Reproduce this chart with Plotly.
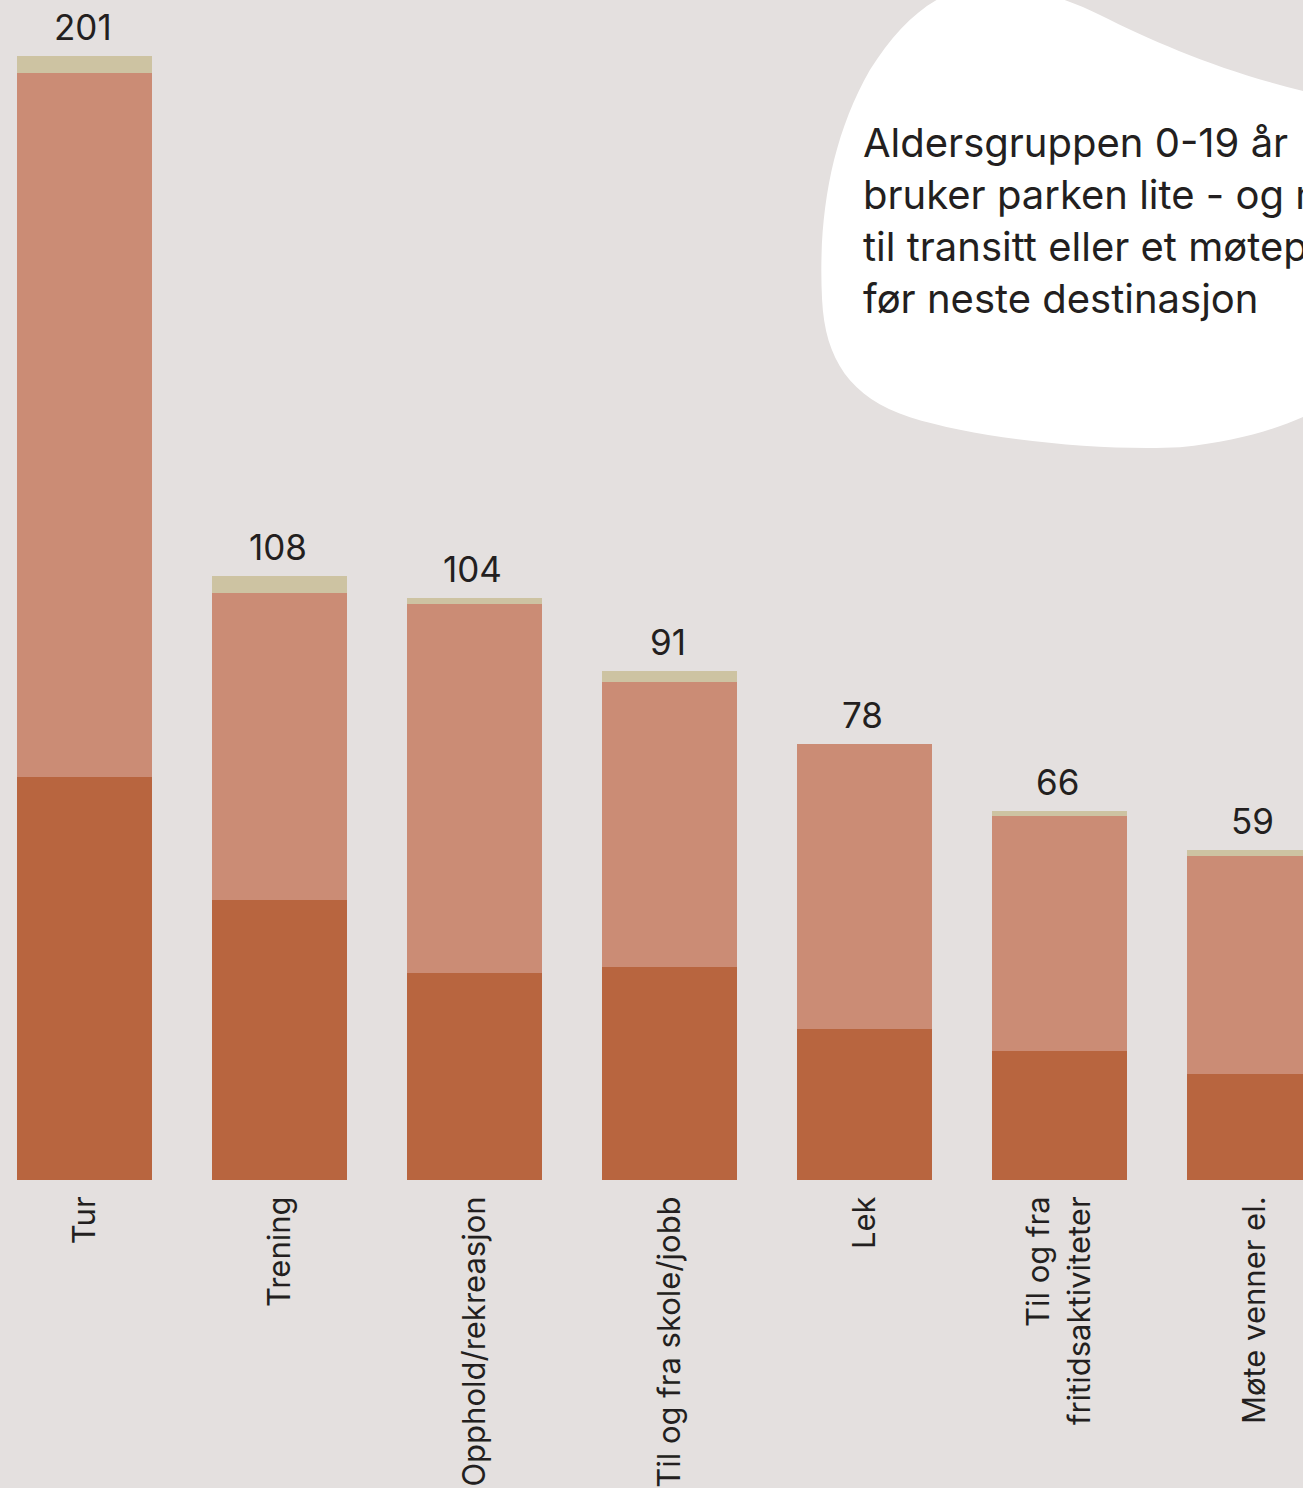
import plotly.graph_objects as go

categories = ["Tur", "Trening", "Opphold/rekreasjon", "Til og fra skole/jobb",
              "Lek", "Til og fra<br>fritidsaktiviteter", "Møte venner el."]
dark_vals = [72, 50, 37, 38, 27, 23, 19]
light_vals = [126, 55, 66, 51, 51, 42, 39]
beige_vals = [3, 3, 1, 2, 0, 1, 1]
totals = [201, 108, 104, 91, 78, 66, 59]

blob_lines = ["Aldersgruppen 0-19 år",
              "bruker parken lite - og mest",
              "til transitt eller et møtepunkt",
              "før neste destinasjon"]

BG = "#e4e0df"
FONT = "Inter, Lato, sans-serif"
TXT = "#231f20"

W, H = 1303, 1488
PLOT_H = 1182

fig = go.Figure()
fig.add_bar(x=categories, y=dark_vals, marker_color="#b8653f", marker_line_width=0)
fig.add_bar(x=categories, y=light_vals, marker_color="#cb8c75", marker_line_width=0)
fig.add_bar(x=categories, y=beige_vals, marker_color="#cdc3a2", marker_line_width=0)

for c, t in zip(categories, totals):
    fig.add_annotation(x=c, y=t, text=str(t), showarrow=False, yanchor="bottom",
                       yshift=6, xshift=-2, font=dict(family=FONT, size=35, color=TXT))

# blob outline (pixel coords -> paper)
def P(px, py):
    return f"{px / W:.4f},{1 - py / PLOT_H:.4f}"

path = (
    f"M {P(960, -10)} "
    f"C {P(1010, -20)} {P(1060, -5)} {P(1100, 15)} "
    f"C {P(1160, 45)} {P(1230, 75)} {P(1320, 95)} "
    f"L {P(1340, 100)} L {P(1340, 400)} "
    f"C {P(1300, 420)} {P(1260, 440)} {P(1180, 448)} "
    f"C {P(1100, 452)} {P(980, 440)} {P(910, 418)} "
    f"C {P(850, 398)} {P(825, 360)} {P(822, 300)} "
    f"C {P(818, 220)} {P(830, 140)} {P(870, 70)} "
    f"C {P(895, 30)} {P(925, 0)} {P(960, -10)} Z"
)
fig.add_shape(type="path", xref="paper", yref="paper", path=path,
              fillcolor="#ffffff", line_width=0, layer="above")

fig.add_annotation(x=861 / W, y=1 - 116 / PLOT_H, xref="paper", yref="paper",
                   xanchor="left", yanchor="top", align="left", showarrow=False,
                   text="<br>".join(blob_lines),
                   font=dict(family=FONT, size=40, color=TXT))

x0 = -84.5 / 195
fig.update_layout(
    width=W, height=H,
    barmode="stack", bargap=0.308,
    showlegend=False,
    paper_bgcolor=BG, plot_bgcolor=BG,
    margin=dict(l=0, r=0, t=0, b=H - PLOT_H, pad=0),
    xaxis=dict(range=[x0, x0 + W / 195], tickangle=-90, showgrid=False,
               showline=False, zeroline=False, ticks="outside", ticklen=3,
               tickcolor="rgba(0,0,0,0)",
               tickfont=dict(family=FONT, size=31, color=TXT)),
    yaxis=dict(range=[0, PLOT_H / 5.602], visible=False, showgrid=False),
)

fig.write_html("out.html", config={"displayModeBar": False},
               post_script="document.body.style.margin='0';document.body.style.background='%s';" % BG)
